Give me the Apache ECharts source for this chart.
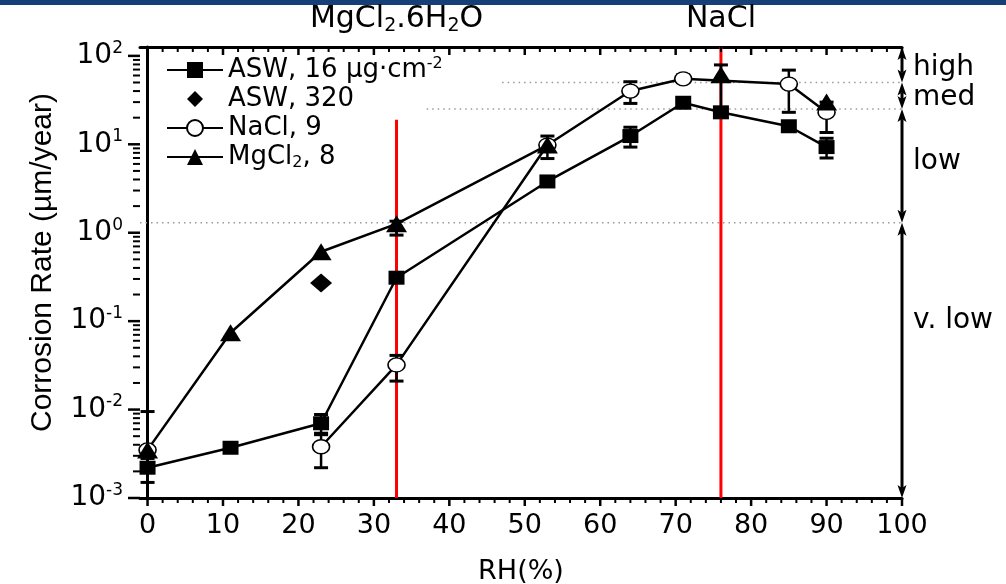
<!DOCTYPE html>
<html><head><meta charset="utf-8">
<script src="https://cdn.jsdelivr.net/npm/echarts@6/dist/echarts.min.js"></script>
<style>html,body{margin:0;padding:0;background:#fff}#c{width:1006px;height:584px}</style>
</head><body><div id="c"></div>
<script>
// ---------------- data ----------------
const rhASW16 = [0, 11, 23, 33, 53, 64, 71, 76, 85, 90];
const crASW16 = [0.0022, 0.0037, 0.0070, 0.31, 3.8, 12.4, 29.5, 23, 16, 9.3];
const errLoASW16 = [0.0015, null, 0.0052, null, null, 9.3, null, null, null, 7.0];
const errHiASW16 = [0.0030, null, 0.0088, null, null, 15.6, null, null, null, 11.7];

const rhASW320 = [23];
const crASW320 = [0.27];

const rhNaCl = [0, 11, 23, 33, 53, 64, 71, 85, 90];
const crNaCl = [0.0035, null, 0.0038, 0.032, 9.8, 40, 55, 48, 23];
const errLoNaCl = [null, null, 0.0022, 0.021, 6.9, 29, 50, 23, 13.6];
const errHiNaCl = [null, null, 0.0054, 0.041, 12.4, 51, 61, 69, 30];

const rhMgCl2 = [0, 11, 23, 33, 53, 64, 76, 85, 90];
const crMgCl2 = [0.0035, 0.074, 0.61, 1.26, 9.8, null, 61, null, 30];
const errLoMgCl2 = [0.0028, null, null, 0.94, null, null, 23, null, null];
const errHiMgCl2 = [0.0095, null, null, 1.35, null, null, 79, null, null];

const legendNames = ['ASW, 16 μg·cm-2', 'ASW, 320', 'NaCl, 9', 'MgCl2, 8'];
const legendRich = ['{t|ASW, 16 μg·cm}{sup|-2}', '{t|ASW, 320}', '{t|NaCl, 9}', '{t|MgCl}{sub|2}{t|, 8}'];

const xMajorTicks = [0, 10, 20, 30, 40, 50, 60, 70, 80, 90, 100];
const yMajorTicks = [0.001, 0.01, 0.1, 1, 10, 100];
const yMinorMultipliers = [2, 3, 4, 5, 6, 7, 8, 9];

const phaseRH = [33, 76];
const phaseLineTop = [19, 126];
const phaseLabels = ['{a|MgCl}{s|2}{a|.6H}{s|2}{a|O}', '{a|NaCl}'];

const rangeNames = ['high', 'med', 'low', 'v. low'];
const rangeTop = [126, 50, 25, 1.3];
const rangeBottom = [50, 25, 1.3, 0.001];
const rangeLabelAt = [73, 34, 6.3, 0.1];

const thresholdValues = [50, 25, 1.3];
const thresholdStartRH = [47, 37, -1];

// ---------------- helpers ----------------
const FONT = 'DejaVu Sans';
const X_MIN = -1, X_MAX = 100, Y_MIN = 0.001, Y_MAX = 126;

function pairs(xs, ys) { return xs.map((x, i) => [x, ys[i] == null ? '-' : ys[i]]); }
function errs(xs, lo, hi) {
  const out = [];
  xs.forEach((x, i) => { if (lo[i] != null && hi[i] != null) out.push([x, lo[i], hi[i]]); });
  return out;
}

function renderErr(params, api) {
  const x = api.value(0);
  const a = api.coord([x, api.value(1)]);
  const b = api.coord([x, api.value(2)]);
  const w = 7;
  return { type: 'group', children: [
    { type: 'line', shape: { x1: a[0], y1: a[1], x2: b[0], y2: b[1] }, style: { stroke: '#000', lineWidth: 2.5 } },
    { type: 'line', shape: { x1: a[0] - w, y1: a[1], x2: a[0] + w, y2: a[1] }, style: { stroke: '#000', lineWidth: 3 } },
    { type: 'line', shape: { x1: b[0] - w, y1: b[1], x2: b[0] + w, y2: b[1] }, style: { stroke: '#000', lineWidth: 3 } }
  ]};
}

// tick data: [x, y, type]  0 bottom major,1 bottom minor,2 top major,3 top minor,4 left major,5 left minor
const tickData = [];
xMajorTicks.forEach(v => { tickData.push([v, Y_MIN, 0]); tickData.push([v, Y_MAX, 2]); });
for (let v = 2; v < 100; v += 2) { if (v % 10 !== 0) { tickData.push([v, Y_MIN, 1]); tickData.push([v, Y_MAX, 3]); } }
yMajorTicks.forEach(v => tickData.push([X_MIN, v, 4]));
yMajorTicks.forEach(v => { if (v < 100) yMinorMultipliers.forEach(m => tickData.push([X_MIN, v * m, 5])); });

function renderTick(params, api) {
  const p = api.coord([api.value(0), api.value(1)]);
  const t = api.value(2);
  let dx = 0, dy = 0;
  if (t === 0) dy = 8; else if (t === 1) dy = 5; else if (t === 2) dy = 8; else if (t === 3) dy = 5;
  else if (t === 4) dx = -12; else dx = -7;
  return { type: 'line', shape: { x1: p[0], y1: p[1], x2: p[0] + dx, y2: p[1] + dy },
    style: { stroke: '#000', lineWidth: (t % 2 === 0) ? 2.5 : 2 } };
}

function renderRange(params, api) {
  const i = params.dataIndex;
  const top = api.coord([api.value(0), api.value(1)]);
  const bot = api.coord([api.value(0), api.value(2)]);
  const lab = api.coord([api.value(0), api.value(3)]);
  const x = top[0], hl = 13, hw = 4.5;
  return { type: 'group', children: [
    { type: 'line', shape: { x1: x, y1: top[1] + hl - 3, x2: x, y2: bot[1] - hl + 3 }, style: { stroke: '#000', lineWidth: 3 } },
    { type: 'polygon', shape: { points: [[x, top[1]], [x - hw, top[1] + hl], [x, top[1] + hl - 3], [x + hw, top[1] + hl]] }, style: { fill: '#000' } },
    { type: 'polygon', shape: { points: [[x, bot[1]], [x - hw, bot[1] - hl], [x, bot[1] - hl + 3], [x + hw, bot[1] - hl]] }, style: { fill: '#000' } },
    { type: 'text', x: x + 11, y: lab[1], style: { text: rangeNames[i], fill: '#000', fontSize: 28, fontFamily: FONT, align: 'left', verticalAlign: 'middle' } }
  ]};
}

function renderThreshold(params, api) {
  const a = api.coord([api.value(0), api.value(1)]);
  const b = api.coord([X_MAX, api.value(1)]);
  return { type: 'line', shape: { x1: a[0], y1: a[1], x2: b[0], y2: b[1] },
    style: { stroke: '#9a9a9a', lineWidth: 1.5, lineDash: [1.5, 4] } };
}

function renderPhase(params, api) {
  const i = params.dataIndex;
  const x = api.value(0);
  const a = api.coord([x, api.value(1)]);
  const b = api.coord([x, api.value(2)]);
  const t = api.coord([x, Y_MAX]);
  return { type: 'group', children: [
    { type: 'line', shape: { x1: a[0], y1: a[1], x2: b[0], y2: b[1] }, style: { stroke: '#ff0000', lineWidth: 3 } },
    { type: 'text', x: t[0], y: t[1] - 11, style: {
      text: phaseLabels[i], align: 'center', verticalAlign: 'bottom', fill: '#000',
      rich: {
        a: { fontSize: 30, fontFamily: FONT, lineHeight: 34, color: '#000' },
        s: { fontSize: 19, fontFamily: FONT, lineHeight: 19, verticalAlign: 'bottom', color: '#000' }
      } } }
  ]};
}

const lineCommon = { type: 'line', silent: true, z: 3, lineStyle: { color: '#000', width: 2.5 }, connectNulls: false };

const option = {
  animation: false,
  backgroundColor: '#fff',
  graphic: [{ type: 'rect', left: 0, top: 0, shape: { width: 1006, height: 5 }, style: { fill: '#163f78' } }],
  grid: { left: 140, right: 104, top: 47, bottom: 86, containLabel: false, outerBoundsMode: 'none' },
  legend: {
    data: legendNames, orient: 'vertical', left: 166, top: 56, padding: 0,
    itemWidth: 56, itemHeight: 20, itemGap: 3,
    formatter: name => legendRich[legendNames.indexOf(name)],
    textStyle: { color: '#000', fontFamily: FONT, fontSize: 26,
      rich: {
        t: { fontSize: 26, fontFamily: FONT, lineHeight: 28, color: '#000' },
        sup: { fontSize: 16, fontFamily: FONT, lineHeight: 16, verticalAlign: 'top', color: '#000' },
        sub: { fontSize: 16, fontFamily: FONT, lineHeight: 16, verticalAlign: 'bottom', color: '#000' }
      } }
  },
  xAxis: [{
    type: 'value', min: X_MIN, max: X_MAX, splitNumber: 10,
    axisLine: { show: true, lineStyle: { color: '#000', width: 3 } },
    axisTick: { show: false }, splitLine: { show: false },
    axisLabel: { color: '#000', fontFamily: FONT, fontSize: 27, margin: 14,
      formatter: v => (v < 0 ? '' : String(v)) },
    name: 'RH(%)', nameLocation: 'middle', nameGap: 60,
    nameTextStyle: { color: '#000', fontFamily: FONT, fontSize: 27 }
  }, {
    type: 'value', position: 'top', min: X_MIN, max: X_MAX,
    axisLine: { show: true, lineStyle: { color: '#000', width: 3 } },
    axisTick: { show: false }, axisLabel: { show: false }, splitLine: { show: false }
  }],
  yAxis: {
    type: 'log', logBase: 10, min: Y_MIN, max: Y_MAX,
    axisLine: { show: true, lineStyle: { color: '#000', width: 3 } },
    axisTick: { show: false }, splitLine: { show: false }, minorTick: { show: false },
    axisLabel: { margin: 17, color: '#000',
      formatter: v => {
        const l = Math.log10(v), e = Math.round(l);
        if (Math.abs(l - e) > 1e-6) return '';
        return '{b|10}{s|' + e + '}';
      },
      rich: {
        b: { fontSize: 28, fontFamily: FONT, lineHeight: 32, color: '#000' },
        s: { fontSize: 17, fontFamily: FONT, lineHeight: 17, verticalAlign: 'top', color: '#000' }
      } },
    name: 'Corrosion Rate (µm/year)', nameLocation: 'middle', nameGap: 82, nameRotate: 90,
    nameTextStyle: { color: '#000', fontFamily: 'Liberation Sans', fontSize: 30, padding: [0, 0, 0, 20] }
  },
  series: [
    { type: 'custom', name: 'thresholds', silent: true, z: 1, clip: false, renderItem: renderThreshold,
      encode: { x: 0, y: 1 }, data: thresholdValues.map((v, i) => [thresholdStartRH[i], v]) },
    { type: 'custom', name: 'phases', silent: true, z: 1, clip: false, renderItem: renderPhase,
      encode: { x: 0, y: [1, 2] }, data: phaseRH.map((x, i) => [x, Y_MIN, phaseLineTop[i]]) },
    { type: 'custom', name: 'errASW16', silent: true, z: 2, renderItem: renderErr, encode: { x: 0, y: [1, 2] },
      data: errs(rhASW16, errLoASW16, errHiASW16) },
    { type: 'custom', name: 'errNaCl', silent: true, z: 2, renderItem: renderErr, encode: { x: 0, y: [1, 2] },
      data: errs(rhNaCl, errLoNaCl, errHiNaCl) },
    { type: 'custom', name: 'errMgCl2', silent: true, z: 2, renderItem: renderErr, encode: { x: 0, y: [1, 2] },
      data: errs(rhMgCl2, errLoMgCl2, errHiMgCl2) },
    Object.assign({}, lineCommon, { name: legendNames[0], symbol: 'rect', symbolSize: [16, 14],
      itemStyle: { color: '#000' }, data: pairs(rhASW16, crASW16) }),
    Object.assign({}, lineCommon, { name: legendNames[1], symbol: 'diamond', symbolSize: [22, 19],
      lineStyle: { color: '#000', width: 0, opacity: 0 },
      itemStyle: { color: '#000' }, data: pairs(rhASW320, crASW320) }),
    Object.assign({}, lineCommon, { name: legendNames[2], symbol: 'circle', symbolSize: [17, 14],
      itemStyle: { color: '#fff', borderColor: '#000', borderWidth: 1.5 }, data: pairs(rhNaCl, crNaCl) }),
    Object.assign({}, lineCommon, { name: legendNames[3], symbol: 'triangle', symbolSize: [21, 17],
      itemStyle: { color: '#000' }, data: pairs(rhMgCl2, crMgCl2) }),
    { type: 'custom', name: 'ticks', silent: true, z: 5, clip: false, renderItem: renderTick,
      encode: { x: 0, y: 1 }, data: tickData },
    { type: 'custom', name: 'ranges', silent: true, z: 5, clip: false, renderItem: renderRange,
      encode: { x: 0, y: [1, 2] }, data: rangeNames.map((n, i) => [X_MAX, rangeTop[i], rangeBottom[i], rangeLabelAt[i]]) }
  ]
};

const chart = echarts.init(document.getElementById('c'));
chart.setOption(option);
</script>
</body></html>
